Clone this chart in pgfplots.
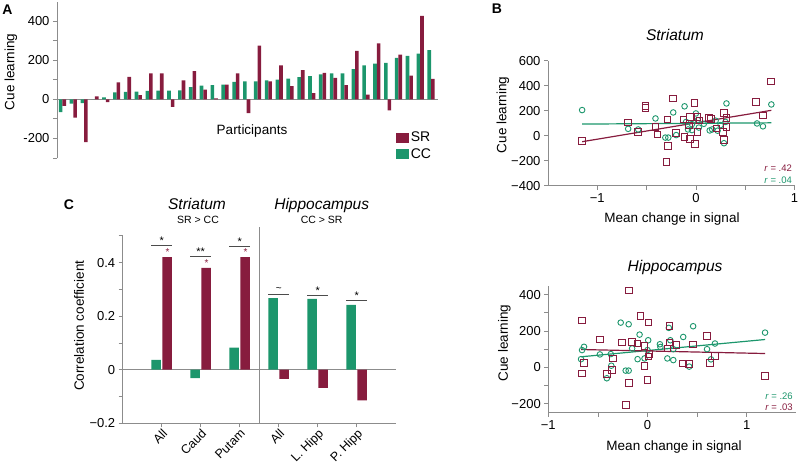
\documentclass[border=0pt]{standalone}
\usepackage{pgfplots}
\pgfplotsset{compat=1.18}
\usepackage{fontspec}
\setmainfont{Liberation Sans}
\definecolor{SRc}{RGB}{135,28,62}
\definecolor{CCc}{RGB}{28,150,108}
\definecolor{axc}{RGB}{140,140,140}
\pgfplotsset{
  myaxis/.style={
    scale only axis, clip=false,
    axis line style={axc, line width=0.8pt, -},
    tick style={axc, line width=0.8pt},
    tick align=outside,
    major tick length=4pt, minor tick length=4pt,
    /pgf/number format/assume math mode=true,
    tick label style={font=\fontsize{13}{15}\selectfont, black},
    label style={font=\fontsize{13.5}{16}\selectfont},
  }
}
\begin{document}
\begin{tikzpicture}[font=\fontsize{13}{15}\selectfont]
\path[use as bounding box] (0pt,0pt) rectangle (800pt,467pt);

% ---------------- Panel A ----------------
\begin{axis}[myaxis, at={(57pt,309pt)}, anchor=south west,
  width=380.5pt, height=156.5pt,
  xmin=0.5, xmax=35.6, ymin=-300, ymax=500,
  axis y line*=left, axis x line=none,
  ytick={-200,0,200,400}, minor ytick={-300,-100,100,300},
  ylabel={Cue learning},
  ylabel style={at={(axis description cs:-0.121,0.551)}, anchor=center},
  reverse legend,
  legend image code/.code={\fill[#1] (0pt,-5pt) rectangle (13pt,5pt);},
  legend style={at={(axis description cs:0.89,0.18)}, anchor=north west,
    draw=none, fill=none, inner sep=0pt, row sep=1pt,
    font=\fontsize{14}{16}\selectfont},
  legend cell align=left,
]
\draw[axc, line width=0.6pt] (axis cs:0.5,0) -- (axis cs:35.6,0);
\addplot[ybar, bar width=3.6pt, bar shift=-1.8pt, fill=CCc, draw=none] coordinates {
(1,-65) (2,-22) (3,-19) (4,0) (5,10) (6,36) (7,38) (8,39) (9,43) (10,44)
(11,44) (12,46) (13,62) (14,70) (15,72) (16,75) (17,89) (18,92) (19,92) (20,97)
(21,101) (22,106) (23,113) (24,118) (25,128) (26,132) (27,132) (28,154) (29,173) (30,183)
(31,186) (32,212) (33,222) (34,234) (35,251)};
\addlegendentry{CC}
\addplot[ybar, bar width=3.6pt, bar shift=1.8pt, fill=SRc, draw=none] coordinates {
(1,-34) (2,-94) (3,-219) (4,15) (5,-15) (6,87) (7,115) (8,21) (9,132) (10,132)
(11,-39) (12,97) (13,144) (14,50) (15,5) (16,75) (17,132) (18,-70) (19,274) (20,92)
(21,174) (22,67) (23,149) (24,32) (25,135) (26,109) (27,72) (28,248) (29,24) (30,286)
(31,-56) (32,229) (33,121) (34,426) (35,104)};
\addlegendentry{SR}
\node[font=\fontsize{13.5}{16}\selectfont] at (axis description cs:0.5125,0.1725) {Participants};
\end{axis}

% ---------------- Panel B top ----------------
\begin{axis}[myaxis, at={(548pt,281.3pt)}, anchor=south west,
  width=246.5pt, height=125pt,
  xmin=-1.5, xmax=1, ymin=-400, ymax=600,
  axis x line*=bottom, axis y line*=left,
  xtick={-1,0,1}, xticklabels={−1,0,1}, minor xtick={-0.5,0.5},
  ytick={-400,-200,0,200,400,600}, yticklabels={−400,−200,0,200,400,600},
  ylabel={Cue learning},
  ylabel style={at={(axis description cs:-0.1826,0.566)}, anchor=center},
  xlabel={Mean change in signal},
  xlabel style={at={(axis description cs:0.503,-0.265)}, anchor=center},
  title={\itshape Striatum},
  title style={at={(axis description cs:0.515,1.16)}, anchor=center, font=\fontsize{15.5}{18}\selectfont},
]
\addplot[only marks, mark=o, mark size=2.8pt, CCc, mark options={line width=0.9pt}] coordinates {
(-1.154,205) (-0.687,55) (-0.585,50) (-0.41,138) (-0.31,-15) (-0.28,-15) (-0.23,186)
(-0.20,5) (-0.115,235) (-0.1,110) (-0.08,50) (-0.04,45) (-0.04,93) (0.0,178) (0.03,65)
(0.02,125) (0.08,95) (0.14,42) (0.165,50) (0.22,40) (0.25,85) (0.2,120) (0.285,-60)
(0.31,258) (0.30,110) (0.62,98) (0.68,75) (0.765,250)};
\addplot[only marks, mark=square, mark size=3.3pt, SRc, mark options={line width=0.9pt}] coordinates {
(-1.154,-43) (-0.69,107) (-0.51,237) (-0.51,221) (-0.585,32) (-0.41,72) (-0.39,10)
(-0.284,-83) (-0.30,-208) (-0.29,130) (-0.23,298) (-0.20,22) (-0.125,131) (-0.115,-10)
(-0.07,82) (-0.06,-28) (-0.06,150) (-0.014,262) (-0.01,-65) (0.014,150) (0.014,30)
(0.034,122) (0.13,142) (0.15,132) (0.21,58) (0.285,183) (0.285,-32) (0.275,28)
(0.31,70) (0.31,142) (0.61,268) (0.68,162) (0.76,435)};
\addplot[CCc, line width=1.2pt] coordinates {(-1.154,93) (0.765,103)};
\addplot[SRc, line width=1.2pt] coordinates {(-1.154,-48) (0.765,203)};
\node[anchor=east, SRc, font=\fontsize{9.5}{11}\selectfont] at (axis cs:1.01,-260) {\textit{r} = .42};
\node[anchor=east, CCc, font=\fontsize{9.5}{11}\selectfont] at (axis cs:1.01,-355) {\textit{r} = .04};
\end{axis}

% ---------------- Panel B bottom ----------------
\begin{axis}[myaxis, at={(548.3pt,54.2pt)}, anchor=south west,
  width=248pt, height=127.3pt,
  xmin=-1, xmax=1.5, ymin=-250, ymax=450,
  axis x line*=bottom, axis y line*=left,
  xtick={-1,0,1}, xticklabels={−1,0,1}, minor xtick={-0.5,0.5},
  ytick={-200,0,200,400}, yticklabels={−200,0,200,400}, minor ytick={-100,100,300},
  ylabel={Cue learning},
  ylabel style={at={(axis description cs:-0.177,0.548)}, anchor=center},
  xlabel={Mean change in signal},
  xlabel style={at={(axis description cs:0.507,-0.266)}, anchor=center},
  title={\itshape Hippocampus},
  title style={at={(axis description cs:0.511,1.096)}, anchor=center, font=\fontsize{15.5}{18}\selectfont},
]
\addplot[only marks, mark=o, mark size=2.8pt, CCc, mark options={line width=0.9pt}] coordinates {
(-0.66,95) (-0.64,113) (-0.67,45) (-0.48,71) (-0.37,73) (-0.365,9) (-0.41,-60) (-0.27,246)
(-0.19,237) (-0.22,-18) (-0.19,-18) (-0.155,104) (-0.10,45) (-0.08,180) (-0.03,49)
(0.007,149) (0.0,95) (0.125,127) (0.13,112) (0.20,49) (0.215,217) (0.23,149) (0.26,40)
(0.26,100) (0.36,167) (0.42,4) (0.46,226) (0.60,100) (0.64,44) (0.68,131) (1.185,191)};
\addplot[only marks, mark=square, mark size=3.3pt, SRc, mark options={line width=0.9pt}] coordinates {
(-0.66,258) (-0.64,25) (-0.66,-33) (-0.48,153) (-0.35,49) (-0.36,-15) (-0.41,-36)
(-0.26,136) (-0.155,140) (-0.10,131) (-0.19,422) (-0.19,-87) (-0.22,-206) (-0.07,284)
(0.01,246) (-0.03,116) (-0.03,7) (0.0,-69) (0.02,73) (0.01,60) (0.22,226) (0.22,136)
(0.20,104) (0.29,122) (0.36,22) (0.42,18) (0.46,126) (0.60,173) (0.63,25) (0.68,62) (1.185,-47)};
\addplot[CCc, line width=1.2pt] coordinates {(-0.67,58) (1.185,153)};
\addplot[SRc, line width=1.2pt] coordinates {(-0.67,98) (1.185,76)};
\node[anchor=east, CCc, font=\fontsize{9.5}{11}\selectfont] at (axis cs:1.5,-158) {\textit{r} = .26};
\node[anchor=east, SRc, font=\fontsize{9.5}{11}\selectfont] at (axis cs:1.5,-222) {\textit{r} = .03};
\end{axis}

% ---------------- Panel C ----------------
\begin{axis}[myaxis, at={(122.7pt,43.7pt)}, anchor=south west,
  width=273pt, height=187.5pt,
  xmin=-1, xmax=6, ymin=-0.2, ymax=0.5,
  axis x line*=bottom, axis y line*=left,
  xtick={0,1,2,3,4,5}, xticklabels={All,Caud,Putam,All,L. Hipp,P. Hipp},
  xticklabel style={rotate=45, anchor=north east, inner sep=0.5pt, font=\fontsize{12.5}{14}\selectfont},
  ytick={-0.2,0,0.2,0.4}, yticklabels={−0.2,0,0.2,0.4}, minor ytick={-0.1,0.1,0.3,0.5},
  ylabel={Correlation coefficient},
  ylabel style={at={(axis description cs:-0.16,0.52)}, anchor=center},
]
\draw[axc, line width=0.8pt] (axis cs:-1.05,0) -- (axis cs:6,0);
\draw[axc, line width=0.8pt] (axis cs:2.5,-0.2) -- (axis cs:2.5,0.533);
\addplot[ybar, bar width=9.5pt, bar shift=-5.5pt, fill=CCc, draw=none] coordinates {
(0,0.037) (1,-0.031) (2,0.083) (3,0.267) (4,0.265) (5,0.242)};
\addplot[ybar, bar width=9.5pt, bar shift=5.5pt, fill=SRc, draw=none] coordinates {
(0,0.42) (1,0.38) (2,0.42) (3,-0.034) (4,-0.068) (5,-0.114)};
% significance marks
\draw[black!70, line width=0.7pt] (axis cs:-0.27,0.466) -- (axis cs:0.27,0.466);
\node[font=\fontsize{11}{12}\selectfont, inner sep=0pt, anchor=south] at (axis cs:0,0.468) {*};
\draw[black!70, line width=0.7pt] (axis cs:0.73,0.424) -- (axis cs:1.27,0.424);
\node[font=\fontsize{11}{12}\selectfont, inner sep=0pt, anchor=south] at (axis cs:1,0.426) {**};
\draw[black!70, line width=0.7pt] (axis cs:1.73,0.46) -- (axis cs:2.27,0.46);
\node[font=\fontsize{11}{12}\selectfont, inner sep=0pt, anchor=south] at (axis cs:2,0.462) {*};
\draw[black!70, line width=0.7pt] (axis cs:3.73,0.279) -- (axis cs:4.27,0.279);
\node[font=\fontsize{11}{12}\selectfont, inner sep=0pt, anchor=south] at (axis cs:4,0.281) {*};
\draw[black!70, line width=0.7pt] (axis cs:4.73,0.258) -- (axis cs:5.27,0.258);
\node[font=\fontsize{11}{12}\selectfont, inner sep=0pt, anchor=south] at (axis cs:5,0.26) {*};
\draw[black!70, line width=0.7pt] (axis cs:2.73,0.283) -- (axis cs:3.27,0.283);
\node[font=\fontsize{10}{12}\selectfont, inner sep=0pt, anchor=south] at (axis cs:3,0.29) {\textasciitilde};
\node[SRc, font=\fontsize{10}{12}\selectfont, inner sep=0pt, anchor=south] at (axis cs:0.15,0.425) {*};
\node[SRc, font=\fontsize{10}{12}\selectfont, inner sep=0pt, anchor=south] at (axis cs:1.15,0.385) {*};
\node[SRc, font=\fontsize{10}{12}\selectfont, inner sep=0pt, anchor=south] at (axis cs:2.15,0.425) {*};
\end{axis}

% ---------------- Free labels ----------------
\node[font=\bfseries\fontsize{14}{16}\selectfont] at (7.5pt,457pt) {A};
\node[font=\bfseries\fontsize{14}{16}\selectfont] at (497pt,458pt) {B};
\node[font=\bfseries\fontsize{14}{16}\selectfont] at (69pt,262pt) {C};
\node[font=\itshape\fontsize{15.5}{18}\selectfont] at (197pt,263pt) {Striatum};
\node[font=\fontsize{10.5}{12}\selectfont] at (198pt,247pt) {SR > CC};
\node[font=\itshape\fontsize{15.5}{18}\selectfont] at (321.7pt,262pt) {Hippocampus};
\node[font=\fontsize{10.5}{12}\selectfont] at (321.7pt,247pt) {CC > SR};
\end{tikzpicture}
\end{document}
